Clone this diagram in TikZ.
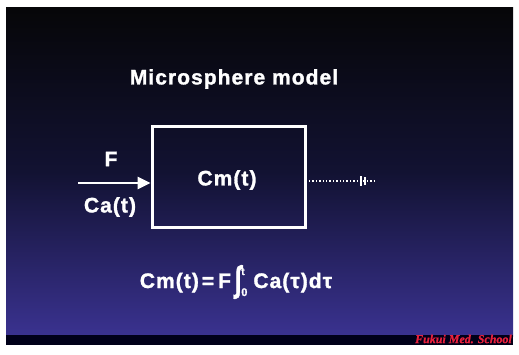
\documentclass[tikz,border=0pt]{standalone}
\usepackage{fontspec}
\usepackage{graphicx}
\usetikzlibrary{arrows.meta}
\newfontfamily\slidefont[LetterSpace=5, BoldFeatures={FakeBold=1.4}]{Liberation Sans}
\newfontfamily\footfont[BoldItalicFeatures={FakeBold=1}]{Liberation Serif}
\definecolor{slidetop}{HTML}{060608}
\definecolor{slidemid}{HTML}{121232}
\definecolor{slidebot}{HTML}{3A3290}
\definecolor{footred}{HTML}{E8203C}
\tikzset{
  txt/.style={text=white, inner sep=0pt, font=\slidefont\bfseries\fontsize{21}{24}\selectfont},
  modelbox/.style={draw=white, line width=3pt},
  flow/.style={draw=white, line width=2.6pt, -{Triangle[width=12pt,length=13pt]}},
  outflow/.style={draw=white, line width=2.2pt, dash pattern=on 1.3pt off 2.1pt},
}
\begin{document}
\begin{tikzpicture}[x=1pt,y=-1pt]
\useasboundingbox (0,0) rectangle (519,354);
\fill[white] (0,0) rectangle (519,354);
\shade[top color=slidetop, bottom color=slidebot, middle color=slidemid] (6,7) rectangle (513,336);
\fill[black!90!blue] (6,335) rectangle (513,345);

\node[txt] (title) at (234,79) {Microsphere model};

\node[modelbox, minimum width=153pt, minimum height=101pt, inner sep=0pt] (box) at (228.5,176.5) {};
\node[txt] (cm) at (227,180) {Cm(t)};

\coordinate (in) at (78,183);
\draw[flow] (in) -- (in -| box.west);
\node[txt] (F) at (111,159) {F};
\node[txt] (ca) at (110,207) {Ca(t)};

\coordinate (outstart) at (309,181);
\coordinate (outend) at (376,181);
\draw[outflow] (outstart) -- (outend);
\draw[white, line width=1.6pt] (361,176) -- (361,186) (365,177) -- (365,185);

\node[txt] (eq) at (236,282) {Cm(t)\hspace{3pt}=\hspace{4pt}F\hspace{4pt}\raisebox{-3pt}{\scalebox{1.1}[1.7]{∫}}\rlap{\raisebox{13pt}{\fontsize{10}{10}\selectfont t}}\raisebox{-8pt}{\fontsize{11}{11}\selectfont 0}\hspace{6pt}Ca(τ)dτ};

\node[anchor=east, text=footred, inner sep=0pt, font=\footfont\bfseries\itshape\fontsize{12}{13}\selectfont] (foot) at (512,339) {Fukui Med. School};
\end{tikzpicture}
\end{document}
